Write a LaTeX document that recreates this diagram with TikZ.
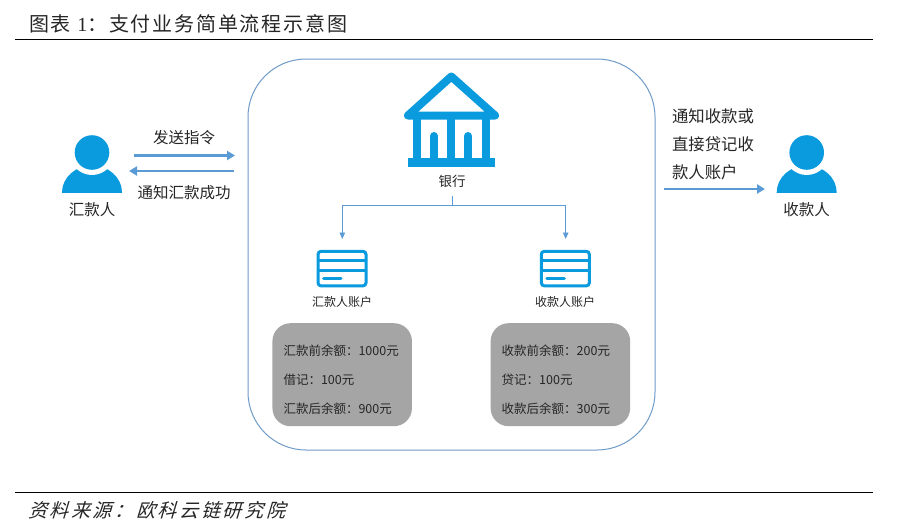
\documentclass[tikz,border=0pt]{standalone}
\usepackage{fontspec}
\setmainfont{Noto Sans CJK SC}
\newfontfamily\titlefont[LetterSpace=9]{Noto Sans CJK SC}
\newfontfamily\sourcefont[LetterSpace=14]{Noto Sans CJK SC}
\newfontfamily\latinserif[LetterSpace=9]{Liberation Serif}
\usetikzlibrary{arrows.meta}
\definecolor{iconblue}{HTML}{0A9ADE}
\definecolor{arrowblue}{HTML}{5B9BD5}
\definecolor{frameblue}{HTML}{6F9BC8}
\definecolor{boxgray}{HTML}{A5A5A5}
\definecolor{txt}{HTML}{262626}
\tikzset{
  lbl/.style={inner sep=0pt,outer sep=0pt,text=txt,font=\fontsize{15.5}{18}\selectfont},
  small/.style={inner sep=0pt,outer sep=0pt,text=txt,font=\fontsize{12}{14}\selectfont},
  bank/.style={inner sep=0pt,outer sep=0pt,text=txt,font=\fontsize{13.5}{16}\selectfont},
  bal/.style={inner sep=0pt,outer sep=0pt,text=txt,font=\fontsize{12.5}{15}\selectfont,anchor=west},
  rule/.style={draw=black,line width=1pt},
  flow/.style={draw=arrowblue,line width=2.4pt,-{Triangle[length=8pt,width=9pt]}},
  thinflow/.style={draw=arrowblue,line width=0.9pt,-{Triangle[length=6.5pt,width=5.5pt]}},
  graybox/.style={draw=none,fill=boxgray,rounded corners=18pt,minimum width=139.5pt,minimum height=103pt,inner sep=0pt},
  card/.style={draw=iconblue,line width=3pt,rounded corners=3pt,minimum width=48pt,minimum height=34.5pt,inner sep=0pt},
  iconline/.style={draw=iconblue,line width=3pt},
}
\newcommand{\personicon}[2]{%
  \begin{scope}
    \clip (#1-31,#2+39.5) rectangle (#1+31,#2-20);
    \fill[iconblue] (#1,#2+40) ellipse [x radius=30pt,y radius=27pt];
  \end{scope}
  \fill[white] (#1,#2) circle [radius=22.5pt];
  \fill[iconblue] (#1,#2) circle [radius=17.3pt];
}
\newcommand{\cardlines}[2]{%
  \draw[iconline] (#1-24,#2-8.3) -- (#1+24,#2-8.3);
  \draw[iconline] (#1-24,#2+2) -- (#1+24,#2+2);
  \draw[iconline,line cap=round] (#1-18.5,#2+10) -- (#1+-1,#2+10);
}
\begin{document}
\begin{tikzpicture}[x=1pt,y=-1pt]
\useasboundingbox (0,0) rectangle (907,530);
\fill[white] (0,0) rectangle (907,530);

% title and rules
\node[inner sep=0pt,anchor=west,text=txt,font=\fontsize{20}{24}\selectfont\titlefont] (title) at (29,24)
  {图表 {\latinserif 1}：支付业务简单流程示意图};
\coordinate (ruleAl) at (15,39.5); \coordinate (ruleAr) at (873,39.5);
\draw[rule] (ruleAl) -- (ruleAr);
\coordinate (ruleBl) at (15,492); \coordinate (ruleBr) at (873,492);
\draw[rule] (ruleBl) -- (ruleBr);
\node[inner sep=0pt,anchor=west,text=txt,xslant=0.3,font=\fontsize{19}{23}\selectfont\sourcefont] (source) at (30,510)
  {资料来源：欧科云链研究院};

% main frame
\node[draw=frameblue,line width=1pt,rounded corners=58pt,minimum width=407pt,minimum height=391pt,inner sep=0pt] (frame) at (451.5,254.5) {};

% persons
\personicon{92}{152.5}
\node[lbl] (payer) at (92,210) {汇款人};
\personicon{806.7}{152.5}
\node[lbl] (payee) at (806.7,210) {收款人};

% side arrows
\coordinate (a1s) at (134,155.5); \coordinate (a1e) at (235,155.5);
\draw[flow] (a1s) -- (a1e);
\coordinate (a2s) at (234,171); \coordinate (a2e) at (129,171);
\draw[flow] (a2s) -- (a2e);
\node[lbl] (send) at (184,138) {发送指令};
\node[lbl] (notify) at (184,193) {通知汇款成功};
\coordinate (a3s) at (664,189); \coordinate (a3e) at (765,189);
\draw[flow] (a3s) -- (a3e);
\node[lbl,anchor=west,font=\fontsize{16.4}{19}\selectfont] (n1) at (672,116) {通知收款或};
\node[lbl,anchor=west,font=\fontsize{16.4}{19}\selectfont] (n2) at (672,144) {直接贷记收};
\node[lbl,anchor=west,font=\fontsize{16.4}{19}\selectfont] (n3) at (672,172) {款人账户};

% bank icon
\draw[iconblue,line width=8pt,line join=round] (408,115.5) -- (451.3,76.5) -- (495,115.5) -- cycle;
\foreach \cx in {417,451,486}{\fill[iconblue] (\cx-4,118) rectangle (\cx+4,160);}
\foreach \cx in {434,468}{\draw[iconblue,line width=8pt,line cap=round] (\cx,136) -- (\cx,160);}
\fill[iconblue] (408,158) rectangle (494.5,167);
\node[bank] (banklabel) at (452,181) {银行};

% connector
\coordinate (split) at (452,205);
\coordinate (cardLtop) at (342.3,239);
\coordinate (cardRtop) at (565.7,239);
\coordinate (stem) at (452,196);
\draw[draw=arrowblue,line width=0.9pt] (stem) -- (split);
\draw[thinflow] (split) -- (split -| cardLtop) -- (cardLtop);
\draw[thinflow] (split) -- (split -| cardRtop) -- (cardRtop);

% cards
\node[card] (cardL) at (342,268.6) {};
\cardlines{342}{268.6}
\node[card] (cardR) at (565.3,268.6) {};
\cardlines{565.3}{268.6}
\node[small] (accL) at (342,302) {汇款人账户};
\node[small] (accR) at (565,302) {收款人账户};

% balances
\node[graybox] (boxL) at (342.2,374.7) {};
\node[graybox] (boxR) at (560.4,374.7) {};
\node[bal] (l1) at (283.5,350.5) {汇款前余额：1000元};
\node[bal] (l2) at (283.5,380) {借记：100元};
\node[bal] (l3) at (283.5,409) {汇款后余额：900元};
\node[bal] (r1) at (501.7,350.5) {收款前余额：200元};
\node[bal] (r2) at (501.7,380) {贷记：100元};
\node[bal] (r3) at (501.7,409) {收款后余额：300元};
\end{tikzpicture}
\end{document}
